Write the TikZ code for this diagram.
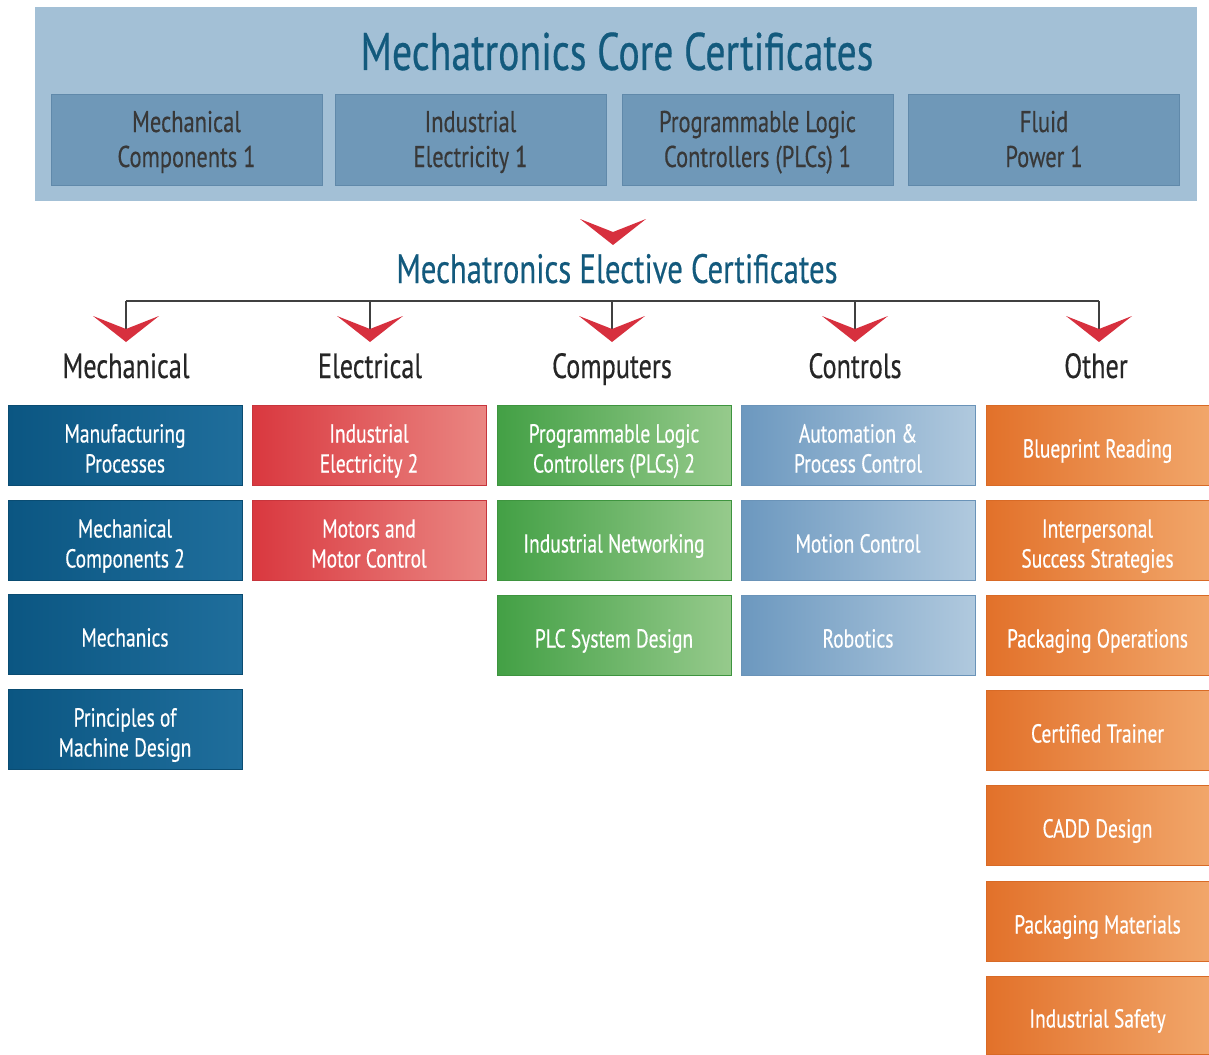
\documentclass[tikz,border=0pt]{standalone}
\usepackage{fontspec}
\setmainfont{PT Sans}[FakeStretch=0.75,FakeBold=0.4]
\definecolor{banner}{HTML}{A3C0D6}
\definecolor{corebox}{HTML}{6F98B8}
\definecolor{coreedge}{HTML}{6089AA}
\definecolor{titleblue}{HTML}{135A7D}
\definecolor{chevred}{HTML}{D7303E}
\definecolor{mechL}{HTML}{0B5682}
\definecolor{mechR}{HTML}{1F6E9C}
\definecolor{mechE}{HTML}{0A4C72}
\definecolor{elecL}{HTML}{D9383F}
\definecolor{elecR}{HTML}{EA8682}
\definecolor{elecE}{HTML}{C7353C}
\definecolor{compL}{HTML}{43A045}
\definecolor{compR}{HTML}{96CA8C}
\definecolor{compE}{HTML}{3E943F}
\definecolor{ctrlL}{HTML}{6C98BF}
\definecolor{ctrlR}{HTML}{B0C9DE}
\definecolor{ctrlE}{HTML}{6A93B8}
\definecolor{othL}{HTML}{E2712A}
\definecolor{othR}{HTML}{F1A66A}
\definecolor{othE}{HTML}{D86A26}
% line helpers: fixed strut, smashed text
\newcommand{\bl}[1]{\rule{0pt}{25pt}\smash{#1}}
\newcommand{\cl}[1]{\rule{0pt}{20pt}\smash{#1}}
\tikzset{
  corecell/.style={rectangle, fill=corebox, draw=coreedge, minimum width=271pt, minimum height=91pt, inner sep=0pt, align=center, text=black!78, font=\fontsize{30}{35}\selectfont},
  elbox/.style={rectangle, minimum width=234pt, minimum height=80pt, inner sep=0pt, align=center, text=white, font=\fontsize{26}{30}\selectfont, line width=0.8pt},
  mechbox/.style={elbox, left color=mechL, right color=mechR, draw=mechE},
  elecbox/.style={elbox, left color=elecL, right color=elecR, draw=elecE},
  compbox/.style={elbox, left color=compL, right color=compR, draw=compE},
  ctrlbox/.style={elbox, left color=ctrlL, right color=ctrlR, draw=ctrlE},
  othbox/.style={elbox, minimum width=223pt, left color=othL, right color=othR, draw=othE},
  cattext/.style={text=black!85, font=\fontsize{35}{40}\selectfont, inner sep=0pt, anchor=base},
  treeline/.style={draw=black!75, line width=1.4pt},
  chevshape/.style={fill=chevred}
}
\newcommand{\chevron}[1]{\fill[chevshape, shift={(#1)}] (-33,0) -- (0,13) -- (33,0) -- (0,26) -- cycle;}
\begin{document}
\begin{tikzpicture}[x=1pt,y=-1pt]
\useasboundingbox (0,0) rectangle (1209,1054);
\fill[white] (0,0) rectangle (1209,1054);
% banner
\node[rectangle, fill=banner, minimum width=1162pt, minimum height=194pt, inner sep=0pt] (banner) at (616,104) {};
\node[text=titleblue, font=\fontsize{53}{60}\selectfont, inner sep=0pt, anchor=base] (coretitle) at (617,70) {Mechatronics Core Certificates};
\node[corecell] (c1) at (186.5,139.5) {\cl{Mechanical}\\\cl{Components 1}};
\node[corecell] (c2) at (470.5,139.5) {\cl{Industrial}\\\cl{Electricity 1}};
\node[corecell] (c3) at (757.5,139.5) {\cl{Programmable Logic}\\\cl{Controllers (PLCs) 1}};
\node[corecell] (c4) at (1044,139.5) {\cl{Fluid}\\\cl{Power 1}};
% top chevron
\coordinate (chTop) at (613,219);
\chevron{chTop}
\node[text=titleblue, font=\fontsize{41}{46}\selectfont, inner sep=0pt, anchor=base] (eltitle) at (617,283) {Mechatronics Elective Certificates};
% tree
\coordinate (b1) at (126,301);
\coordinate (b2) at (370,301);
\coordinate (b3) at (612,301);
\coordinate (b4) at (855,301);
\coordinate (b5) at (1099,301);
\coordinate (ch1) at (126,316);
\coordinate (ch2) at (370,316);
\coordinate (ch3) at (612,316);
\coordinate (ch4) at (855,316);
\coordinate (ch5) at (1099,316);
\draw[treeline] (b1) -- (b5);
\foreach \i in {1,...,5}{\draw[treeline] (b\i) -- ([yshift=-14pt]ch\i);}
\foreach \i in {1,...,5}{\chevron{ch\i}}
% categories
\node[cattext] (kMech) at (126,378) {Mechanical};
\node[cattext] (kElec) at (370,378) {Electrical};
\node[cattext] (kComp) at (612,378) {Computers};
\node[cattext] (kCtrl) at (855,378) {Controls};
\node[cattext] (kOth) at (1096,378) {Other};
% Mechanical column
\node[mechbox] (m1) at (125,445) {\bl{Manufacturing}\\\bl{Processes}};
\node[mechbox] (m2) at (125,540) {\bl{Mechanical}\\\bl{Components 2}};
\node[mechbox] (m3) at (125,634) {\bl{Mechanics}};
\node[mechbox] (m4) at (125,729) {\bl{Principles of}\\\bl{Machine Design}};
% Electrical
\node[elecbox] (e1) at (369,445) {\bl{Industrial}\\\bl{Electricity 2}};
\node[elecbox] (e2) at (369,540) {\bl{Motors and}\\\bl{Motor Control}};
% Computers
\node[compbox] (p1) at (614,445) {\bl{Programmable Logic}\\\bl{Controllers (PLCs) 2}};
\node[compbox] (p2) at (614,540) {\bl{Industrial Networking}};
\node[compbox] (p3) at (614,635) {\bl{PLC System Design}};
% Controls
\node[ctrlbox] (r1) at (858,445) {\bl{Automation \&}\\\bl{Process Control}};
\node[ctrlbox] (r2) at (858,540) {\bl{Motion Control}};
\node[ctrlbox] (r3) at (858,635) {\bl{Robotics}};
% Other
\node[othbox] (o1) at (1097.5,445) {\bl{Blueprint Reading}};
\node[othbox] (o2) at (1097.5,540) {\bl{Interpersonal}\\\bl{Success Strategies}};
\node[othbox] (o3) at (1097.5,635) {\bl{Packaging Operations}};
\node[othbox] (o4) at (1097.5,730) {\bl{Certified Trainer}};
\node[othbox] (o5) at (1097.5,825) {\bl{CADD Design}};
\node[othbox] (o6) at (1097.5,921) {\bl{Packaging Materials}};
\node[othbox, minimum height=78pt] (o7) at (1097.5,1015) {\bl{Industrial Safety}};
\end{tikzpicture}
\end{document}
